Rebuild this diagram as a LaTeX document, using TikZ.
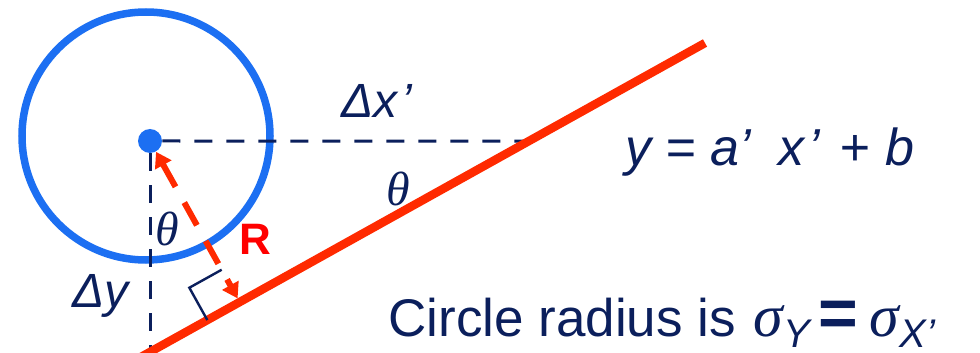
\documentclass[tikz,border=0pt]{standalone}
\usepackage{fontspec}
\setmainfont{Liberation Sans}
\newfontfamily\greekserif{Liberation Serif}
\usepackage{tikz}
\usetikzlibrary{arrows.meta, calc}

\definecolor{navy}{HTML}{0B1F5C}
\definecolor{circblue}{HTML}{1C6FF2}
\definecolor{linered}{HTML}{FF2A00}
\definecolor{rred}{HTML}{FF0000}

\newcommand{\sigsym}{{\fontsize{30}{32}\selectfont\greekserif\itshape σ}}
\newcommand{\subtxt}[1]{\raisebox{-5.5pt}{\fontsize{20}{22}\selectfont\itshape #1}}

\tikzset{
  guide/.style={navy, line width=1.5pt, dash pattern=on 9pt off 7pt},
  dot/.style={circle, fill=circblue, inner sep=0pt, minimum size=12pt},
  lbl/.style={navy, inner sep=0pt, font=\fontsize{24}{28}\selectfont\itshape},
  anglbl/.style={navy, inner sep=0pt, font=\fontsize{24}{28}\selectfont\greekserif\itshape},
  radarrow/.style={linered, line width=3pt, dash pattern=on 13pt off 9pt,
    {Triangle[length=7.5pt,width=9pt]}-{Triangle[length=7.5pt,width=9pt]}},
}

\begin{document}
\begin{tikzpicture}[x=0.5pt, y=-0.5pt]
  \useasboundingbox (0,0) rectangle (980,353);

  % Kreis
  \draw[circblue, line width=3.75pt] (146,136) circle[radius=62pt];
  \node[dot] (c) at (150,141) {};

  % Gerade
  \coordinate (lo) at (141,357);
  \coordinate (hi) at (705,43);
  \coordinate (cr) at (700,141);
  \coordinate (cb) at (150,353);
  \coordinate (cx) at (intersection of c--cr and lo--hi);
  \coordinate (foot) at ($(lo)!(c)!(hi)$);

  % Hilfslinien
  \draw[guide] (c) -- (cx);
  \draw[guide] (c) -- (cb);
  \draw[linered, line width=4.25pt] (lo) -- (hi);

  % rechter Winkel
  \coordinate (ra) at ($(foot)!18.5pt!(c)$);
  \coordinate (rb) at ($(foot)!18.5pt!(lo)$);
  \draw[navy, line width=1.2pt] (ra) -- ($(ra)+(rb)-(foot)$) -- (rb);

  % Radius
  \draw[radarrow, shorten >=2.1pt] (c) -- (foot);

  % Beschriftung
  \node[anglbl] (th1) at (167.5,228.5) {θ};
  \node[anglbl] (th2) at (398,189) {θ};
  \node[inner sep=0pt, text=rred, font=\fontsize{22}{26}\selectfont\bfseries] (r) at (255,239) {R};
  \node[lbl, anchor=base west] (dx) at (341,118) {Δx\hspace{2pt}’};
  \node[lbl, anchor=base west] (dy) at (72,307) {Δy};
  \node[lbl, anchor=base west, font=\fontsize{26}{30}\selectfont\itshape] (eq) at (625,166)
    {y\hspace{7pt}=\hspace{7.5pt}a’\hspace{13.5pt}x\hspace{2pt}’\hspace{10pt}+\hspace{7.5pt}b};
  \node[navy, inner sep=0pt, anchor=base west, font=\fontsize{26.5}{30}\selectfont] (rad) at (388,336)
    {Circle radius is\hspace{9pt}\sigsym\subtxt{Y}\hspace{4pt}{\fontsize{34}{36}\selectfont\bfseries =}\hspace{6pt}\sigsym\subtxt{X’}};
\end{tikzpicture}
\end{document}
